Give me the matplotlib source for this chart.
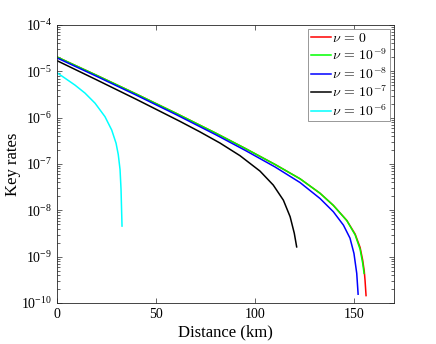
import numpy as np
import matplotlib
matplotlib.use("Agg")
import matplotlib.pyplot as plt
from matplotlib.ticker import LogLocator, NullFormatter, FixedLocator

plt.rcParams['font.family'] = ['Liberation Serif', 'DejaVu Serif']
plt.rcParams['mathtext.fontset'] = 'stix'

# distances (km) and log10(key rate)
d_nu0 = [0, 20, 40, 60, 80, 95, 110, 122.6, 132.7, 139.4, 146.2, 150.4, 152.9, 154.2, 155.0, 155.4, 155.9]
l_nu0 = [-4.69, -5.086, -5.49, -5.904, -6.332, -6.665, -7.01, -7.319, -7.632, -7.893, -8.219, -8.513, -8.801, -9.074, -9.314, -9.514, -9.84]

d_nu9 = [0, 20, 40, 60, 80, 95, 110, 122.6, 132.7, 139.4, 146.2, 150.4, 152.9, 154.2, 154.9]
l_nu9 = [-4.69, -5.086, -5.49, -5.904, -6.332, -6.665, -7.01, -7.319, -7.632, -7.893, -8.222, -8.53, -8.84, -9.14, -9.36]

d_nu8 = [0, 20, 40, 60, 80, 95, 110, 122.6, 132.7, 139.4, 144.5, 147.8, 149.8, 151.2, 151.9]
l_nu8 = [-4.71, -5.108, -5.514, -5.932, -6.366, -6.707, -7.064, -7.40, -7.745, -8.03, -8.32, -8.60, -8.93, -9.36, -9.81]

d_nu7 = [0, 20, 40, 62, 72, 82.2, 92.3, 102.4, 109.1, 114.2, 117.6, 119.7, 120.9]
l_nu7 = [-4.77, -5.184, -5.604, -6.079, -6.304, -6.547, -6.82, -7.153, -7.455, -7.781, -8.138, -8.495, -8.789]

d_nu6 = [0, 4.0, 9.1, 14.1, 19.2, 24.2, 27.6, 29.8, 30.9, 31.8, 32.3, 32.8]
l_nu6 = [-5.03, -5.147, -5.298, -5.469, -5.688, -5.978, -6.267, -6.553, -6.795, -7.119, -7.544, -8.34]

labels = [r'$\nu\,=\,0$', r'$\nu\,=\,10^{-9}$', r'$\nu\,=\,10^{-8}$', r'$\nu\,=\,10^{-7}$', r'$\nu\,=\,10^{-6}$']
colors = ['#ff0000', '#00ff00', '#0000ff', '#000000', '#00ffff']
series = [(d_nu0, l_nu0), (d_nu9, l_nu9), (d_nu8, l_nu8), (d_nu7, l_nu7), (d_nu6, l_nu6)]

fig = plt.figure(figsize=(4.36, 3.44), dpi=100)
ax = fig.add_axes([57/436, 41/344, 337/436, 278/344])

for (d, l), c, lab in zip(series, colors, labels):
    ax.plot(d, 10.0 ** np.array(l), color=c, lw=1.1, label=lab)

ax.set_yscale('log')
ax.set_xlim(0, 170)
ax.set_ylim(1e-10, 1e-4)
ax.xaxis.set_major_locator(FixedLocator([0, 50, 100, 150]))
ax.yaxis.set_major_locator(LogLocator(base=10, numticks=10))
ax.yaxis.set_minor_locator(LogLocator(base=10, subs=np.arange(2, 10), numticks=20))
ax.yaxis.set_minor_formatter(NullFormatter())

gray = '#262626'
for s in ax.spines.values():
    s.set_color(gray)
    s.set_linewidth(0.6)
ax.tick_params(which='both', direction='in', top=True, right=True, colors=gray,
               labelcolor='black', labelsize=10)
ax.tick_params(which='major', length=3.5, width=0.5)
ax.tick_params(which='minor', length=2, width=0.5)

ax.set_xlabel('Distance (km)', fontsize=12, labelpad=2.5)
ax.set_ylabel('Key rates', fontsize=12, labelpad=0.5)

leg = ax.legend(loc='upper right', prop={'size': 10, 'math_fontfamily': 'cm'},
                fancybox=False, framealpha=1, edgecolor='#888888',
                handlelength=1.45, handletextpad=0.05, borderpad=0.2,
                labelspacing=0.2, borderaxespad=0.3)
leg.get_frame().set_linewidth(0.6)

fig.savefig('out.png', dpi=100)
